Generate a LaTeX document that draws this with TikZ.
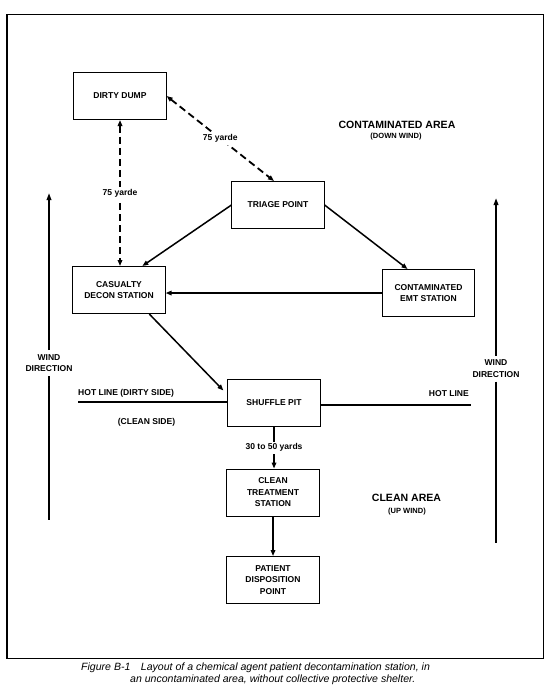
\documentclass[tikz,border=0pt]{standalone}
\usepackage{fontspec}
\setmainfont{Liberation Sans}
\usetikzlibrary{arrows.meta,calc}

\begin{document}
\begin{tikzpicture}[scale=0.35]
\tikzstyle{every node}+=[inner sep=0pt, font=\fontsize{8.5}{11.5}\selectfont\bfseries]
\tikzstyle{station}=[draw, line width=0.8pt, minimum width=92pt, minimum height=47pt, align=center]
\tikzstyle{flow}=[line width=1.5pt, -{Triangle[length=6pt,width=4.5pt]}]
\tikzstyle{yards}=[line width=1.8pt, dash pattern=on 7pt off 4pt, {Triangle[length=6pt,width=4.5pt]}-{Triangle[length=6pt,width=4.5pt]}]
\tikzstyle{gap}=[fill=white, inner sep=2pt]
\tikzstyle{windtext}=[align=center, inner sep=4pt]
\tikzstyle{wind}=[line width=1.8pt]
\tikzstyle{hotline}=[line width=1.5pt]
\tikzstyle{area}=[font=\fontsize{10.5}{12}\selectfont\bfseries]
\tikzstyle{areanote}=[font=\fontsize{7.5}{9}\selectfont\bfseries]
\tikzstyle{caption}=[anchor=west, font=\fontsize{10.5}{12}\selectfont\itshape]
\useasboundingbox (0,0) rectangle (55,-69.4);
\draw [line width=1pt] (0.7,-1.4) rectangle (54.3,-65.8);
\node [station] (dump) at (12.0,-9.6) {DIRTY DUMP};
\node [station] (triage) at (27.8,-20.5) {TRIAGE POINT};
\node [station] (casualty) at (11.9,-29.0) {CASUALTY\\DECON STATION};
\node [station] (emt) at (42.85,-29.3) {CONTAMINATED\\EMT STATION};
\node [station] (shuffle) at (27.4,-40.25) {SHUFFLE PIT};
\node [station] (treat) at (27.3,-49.25) {CLEAN\\TREATMENT\\STATION};
\node [station] (dispo) at (27.3,-58.0) {PATIENT\\DISPOSITION\\POINT};
\draw [yards] (dump.south) -- node [gap] {75 yarde} (dump.south |- casualty.north);
\draw [yards] (dump.east) -- node [gap] {75 yarde} ($(triage.north)+(-0.4,0)$);
\draw [flow] (triage.west) -- ($(casualty.north)!0.5!(casualty.north east)$);
\draw [flow] (triage.east) -- ($(emt.north west)!0.55!(emt.north)$);
\draw [flow] (emt.west) -- (emt.west -| casualty.east);
\draw [flow] ($(casualty.south)!0.65!(casualty.south east)$) -- ($(shuffle.north west)+(-0.4,-1.2)$);
\draw [flow] (shuffle.south) -- node [gap] {30 to 50 yards} (shuffle.south |- treat.north);
\draw [flow] (treat.south) -- (treat.south |- dispo.north);
\coordinate (hotL) at (7.8,-40.2);
\coordinate (hotR) at (47.1,-40.5);
\draw [hotline] (hotL) -- (hotL -| shuffle.west);
\draw [hotline] (shuffle.east |- hotR) -- (hotR);
\node [anchor=west] (dirtyside) at (7.8,-39.3) {HOT LINE (DIRTY SIDE)};
\node (cleanside) at (14.65,-42.2) {(CLEAN SIDE)};
\node [anchor=east] (hotlabel) at (46.9,-39.4) {HOT LINE};
\node [windtext] (windL) at (4.9,-36.3) {WIND\\DIRECTION};
\coordinate (tipL) at (4.9,-19.3);
\coordinate (endL) at (4.9,-52.0);
\draw [wind, -{Triangle[length=7pt,width=4.5pt]}] (windL.north) -- (tipL);
\draw [wind] (windL.south) -- (endL);
\node [windtext] (windR) at (49.6,-36.85) {WIND\\DIRECTION};
\coordinate (tipR) at (49.6,-19.8);
\coordinate (endR) at (49.6,-54.3);
\draw [wind, -{Triangle[length=7pt,width=4.5pt]}] (windR.north) -- (tipR);
\draw [wind] (windR.south) -- (endR);
\node [area] (dirtyarea) at (39.7,-12.45) {CONTAMINATED AREA};
\node [areanote] (downwind) at (39.6,-13.7) {(DOWN WIND)};
\node [area] (cleanarea) at (40.65,-49.8) {CLEAN AREA};
\node [areanote] (upwind) at (40.7,-51.2) {(UP WIND)};
\node [caption] (caption) at (8.1,-66.8) {Figure B-1\hspace{1em}Layout of a chemical agent patient decontamination station, in};
\node [caption] (caption2) at (13.0,-68.0) {an uncontaminated area, without collective protective shelter.};
\end{tikzpicture}
\end{document}
